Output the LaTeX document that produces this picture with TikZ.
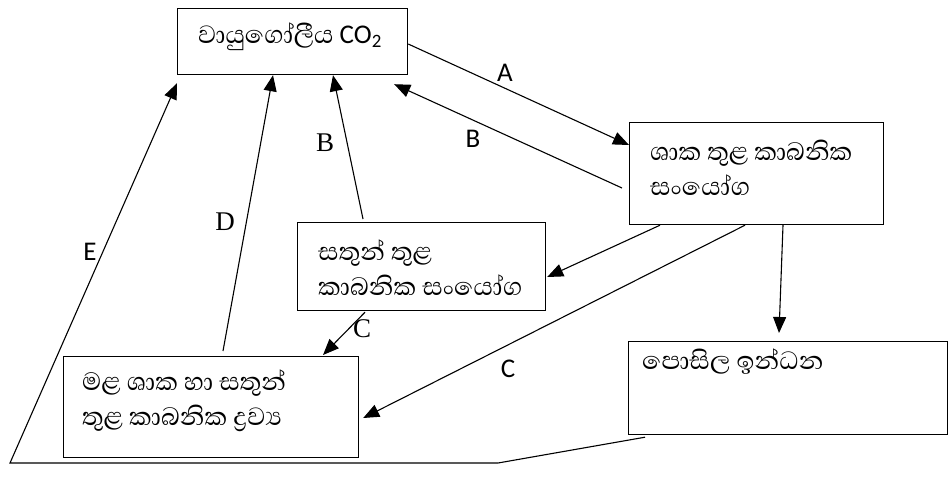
\documentclass[tikz,border=0pt]{standalone}
\usepackage{fontspec}
\usetikzlibrary{arrows.meta,calc}
\newfontfamily\sinfont[Script=Sinhala]{Abhaya Libre}
\newfontfamily\labsans{Carlito}
\newfontfamily\labserif{Liberation Serif}
\begin{document}
\begin{tikzpicture}[x=1pt,y=-1pt,
  box/.style={draw,line width=1.2pt,rectangle,inner sep=0pt,anchor=north west},
  sintext/.style={font=\sinfont\fontsize{32}{35}\selectfont,anchor=west,inner sep=0pt,align=left},
  conn/.style={line width=1.1pt},
  arr/.style={conn,-{Triangle[length=16pt,width=13pt]}},
  lsans/.style={font=\labsans\fontsize{27}{30}\selectfont,inner sep=0pt},
  lserif/.style={font=\labserif\fontsize{27}{30}\selectfont,inner sep=0pt}]
\useasboundingbox (0,0) rectangle (949,482);
% boxes
\node[box,minimum width=230pt,minimum height=66pt] (co2) at (177,8) {};
\node[box,minimum width=254pt,minimum height=102pt] (plant) at (629,122) {};
\node[box,minimum width=248pt,minimum height=88pt] (animal) at (297,222) {};
\node[box,minimum width=295pt,minimum height=101pt] (dead) at (63,356) {};
\node[box,minimum width=319pt,minimum height=93pt] (fossil) at (628,341) {};
% texts
\node[sintext] (tco2) at (198,37) {වායුගෝලීය {\labsans\fontsize{27}{30}\selectfont CO\textsubscript{2}}};
\node[sintext] (tplant) at (650,168) {ශාක තුළ කාබනික\\සංයෝග};
\node[sintext] (tanimal) at (318,268) {සතුන් තුළ\\කාබනික සංයෝග};
\node[sintext] (tdead) at (82,401) {මළ ශාක හා සතුන්\\තුළ කාබනික ද්‍රව්‍ය};
\node[sintext] (tfossil) at (642,362) {පොසිල ඉන්ධන};
% connectors
\draw[arr] ($(co2.north east)+(0,36)$) -- ($(plant.north west)+(0,23)$);
\draw[arr] ($(plant.north west)+(-7,66)$) -- ($(co2.south east)+(-14,9)$);
\draw[arr] ($(plant.south west)+(31,0)$) -- ($(animal.north east)+(1,55)$);
\draw[arr] ($(plant.south west)+(116,0)$) -- ($(dead.north east)+(4,62)$);
\draw[arr] ($(plant.south west)+(154,0)$) -- ($(fossil.north west)+(151,-8)$);
\draw[arr] ($(animal.north west)+(66,-3)$) -- ($(co2.south west)+(156,0)$);
\draw[arr] ($(animal.south west)+(68,1)$) -- ($(dead.north west)+(260,-1)$);
\draw[arr] ($(dead.north west)+(160,-5)$) -- ($(co2.south west)+(96,0)$);
\coordinate (e1) at (498,463);
\coordinate (e2) at (10,463);
\draw[arr] ($(fossil.south west)+(17,2)$) -- (e1) -- (e2) -- ($(co2.south west)+(0,8)$);
% labels
\node[lsans] (la) at (505,73) {A};
\node[lsans] (lb1) at (473,139) {B};
\node[lserif] (lb2) at (325,143) {B};
\node[lserif] (ld) at (225,222) {D};
\node[lserif] (lc1) at (362,329) {C};
\node[lsans] (lc2) at (508,369) {C};
\node[lsans] (le) at (90,252) {E};
\end{tikzpicture}
\end{document}
